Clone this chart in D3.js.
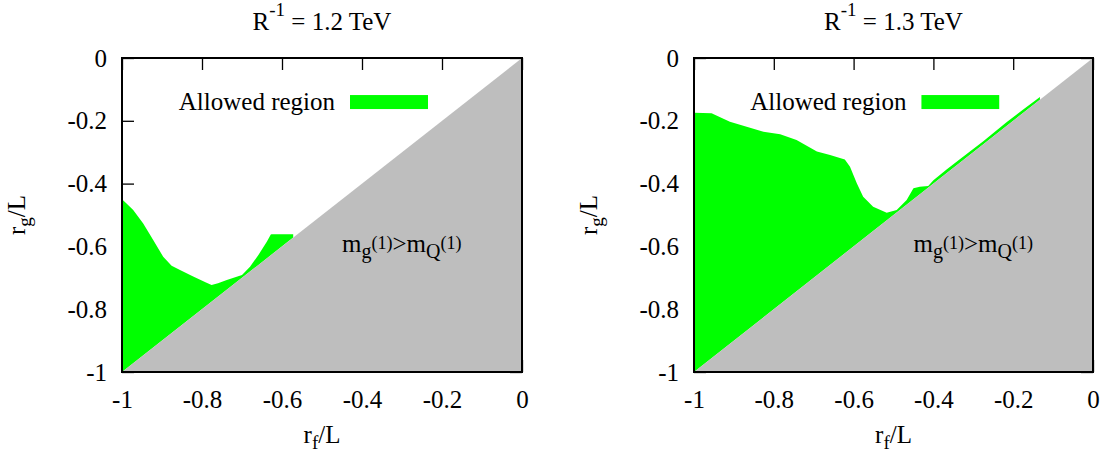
<!DOCTYPE html>
<html lang="en">
<head>
<meta charset="utf-8">
<title>Allowed region</title>
<script src="https://d3js.org/d3.v7.min.js"></script>
<style>
  body { margin: 0; background: #fff; }
  svg text { font-family: "Liberation Serif", "DejaVu Serif", serif; fill: #000; }
</style>
</head>
<body>
<svg width="1110" height="454"></svg>
<script>
// R^-1 values of the two panels
const titles = ["1.2", "1.3"];
const ticks = [-1, -0.8, -0.6, -0.4, -0.2, 0];

// upper edge of the allowed (green) region, R^-1 = 1.2 TeV
const rf12 = [-1, -0.99, -0.972, -0.947, -0.922, -0.897, -0.876, -0.855, -0.822, -0.79, -0.776, -0.76, -0.738, -0.70, -0.68, -0.659, -0.638, -0.628, -0.626, -0.60, -0.572];
const rg12 = [-0.45, -0.462, -0.484, -0.527, -0.580, -0.633, -0.662, -0.675, -0.696, -0.715, -0.723, -0.717, -0.707, -0.691, -0.665, -0.627, -0.585, -0.562, -0.561, -0.561, -0.561];

// upper edge of the allowed region, R^-1 = 1.3 TeV
const rf13 = [-1, -0.956, -0.91, -0.868, -0.826, -0.784, -0.743, -0.692, -0.659, -0.622, -0.609, -0.592, -0.576, -0.551, -0.517, -0.492, -0.467, -0.45, -0.434, -0.413, -0.40, -0.367, -0.333, -0.275, -0.216, -0.175, -0.133];
const rg13 = [-0.174, -0.176, -0.203, -0.219, -0.235, -0.243, -0.261, -0.298, -0.309, -0.323, -0.346, -0.399, -0.442, -0.474, -0.493, -0.484, -0.452, -0.415, -0.410, -0.408, -0.389, -0.355, -0.322, -0.265, -0.204, -0.164, -0.124];

const curves = [[rf12, rg12], [rf13, rg13]];

const svg = d3.select("svg");
const fs = 25;
const panels = [
  {left: 122, right: 522, top: 58, bottom: 372},
  {left: 694, right: 1093, top: 58, bottom: 372}
];

panels.forEach((p, k) => {
  const x = d3.scaleLinear().domain([-1, 0]).range([p.left, p.right]);
  const y = d3.scaleLinear().domain([-1, 0]).range([p.bottom, p.top]);
  const g = svg.append("g");
  const fmt = d => String(d);

  // ticks on all four sides (fills cover some of them, like gnuplot)
  const styleAxis = a => {
    a.select(".domain").remove();
    a.selectAll("line").attr("stroke", "#000").attr("stroke-width", 1.3);
    a.selectAll("text").attr("font-size", fs).attr("font-family", null);
  };
  g.append("g").attr("transform", `translate(0,${p.bottom})`)
    .call(d3.axisBottom(x).tickValues(ticks).tickFormat(fmt).tickSize(-12).tickPadding(18))
    .call(styleAxis);
  g.append("g").attr("transform", `translate(0,${p.top})`)
    .call(d3.axisTop(x).tickValues(ticks).tickFormat("").tickSize(-12))
    .call(styleAxis);
  g.append("g").attr("transform", `translate(${p.left},0)`)
    .call(d3.axisLeft(y).tickValues(ticks).tickFormat(fmt).tickSize(-12).tickPadding(15))
    .call(styleAxis);
  g.append("g").attr("transform", `translate(${p.right},0)`)
    .call(d3.axisRight(y).tickValues(ticks).tickFormat("").tickSize(-12))
    .call(styleAxis);

  // allowed region: under the curve, down to the diagonal
  const [rf, rg] = curves[k];
  const pts = [[-1, -1]].concat(rf.map((v, i) => [v, rg[i]]));
  pts.push([rf[rf.length - 1], rf[rf.length - 1]]);
  const line = d3.line().x(d => x(d[0])).y(d => y(d[1]));
  g.append("path").attr("d", line(pts) + "Z").attr("fill", "#00ff00");

  // excluded triangle r_g < r_f
  g.append("path").attr("d", line([[-1, -1], [0, 0], [0, -1]]) + "Z").attr("fill", "#bebebe");

  // border
  g.append("rect").attr("x", p.left).attr("y", p.top)
    .attr("width", p.right - p.left).attr("height", p.bottom - p.top)
    .attr("fill", "none").attr("stroke", "#000").attr("stroke-width", 2);

  // legend
  g.append("text").attr("x", x(-0.4675)).attr("y", y(-0.166))
    .attr("text-anchor", "end").attr("font-size", fs).text("Allowed region");
  g.append("rect").attr("x", x(-0.43)).attr("y", y(-0.118))
    .attr("width", x(-0.235) - x(-0.43)).attr("height", 14).attr("fill", "#00ff00");

  // annotation
  const t = g.append("text").attr("x", x(-0.45)).attr("y", y(-0.618)).attr("font-size", fs);
  t.append("tspan").text("m");
  t.append("tspan").attr("font-size", 20).attr("dy", 6).text("g");
  t.append("tspan").attr("font-size", 18).attr("dy", -9).text("(1)");
  t.append("tspan").attr("dy", 3).text(">m");
  t.append("tspan").attr("font-size", 20).attr("dy", 6).text("Q");
  t.append("tspan").attr("font-size", 18).attr("dy", -9).text("(1)");

  // title
  const ti = g.append("text").attr("x", (p.left + p.right) / 2).attr("y", 30)
    .attr("text-anchor", "middle").attr("font-size", fs);
  ti.append("tspan").text("R");
  ti.append("tspan").attr("font-size", 19).attr("dy", -14).text("-1");
  ti.append("tspan").attr("dy", 14).text(" = " + titles[k] + " TeV");

  // axis titles
  const xt = g.append("text").attr("x", (p.left + p.right) / 2).attr("y", 443)
    .attr("text-anchor", "middle").attr("font-size", fs);
  xt.append("tspan").text("r");
  xt.append("tspan").attr("font-size", 19).attr("dy", 6).text("f");
  xt.append("tspan").attr("dy", -6).text("/L");

  const yt = g.append("text")
    .attr("transform", `translate(${p.left - 97},${(p.top + p.bottom) / 2}) rotate(-90)`)
    .attr("text-anchor", "middle").attr("font-size", fs);
  yt.append("tspan").text("r");
  yt.append("tspan").attr("font-size", 19).attr("dy", 6).text("g");
  yt.append("tspan").attr("dy", -6).text("/L");
});
</script>
</body>
</html>
